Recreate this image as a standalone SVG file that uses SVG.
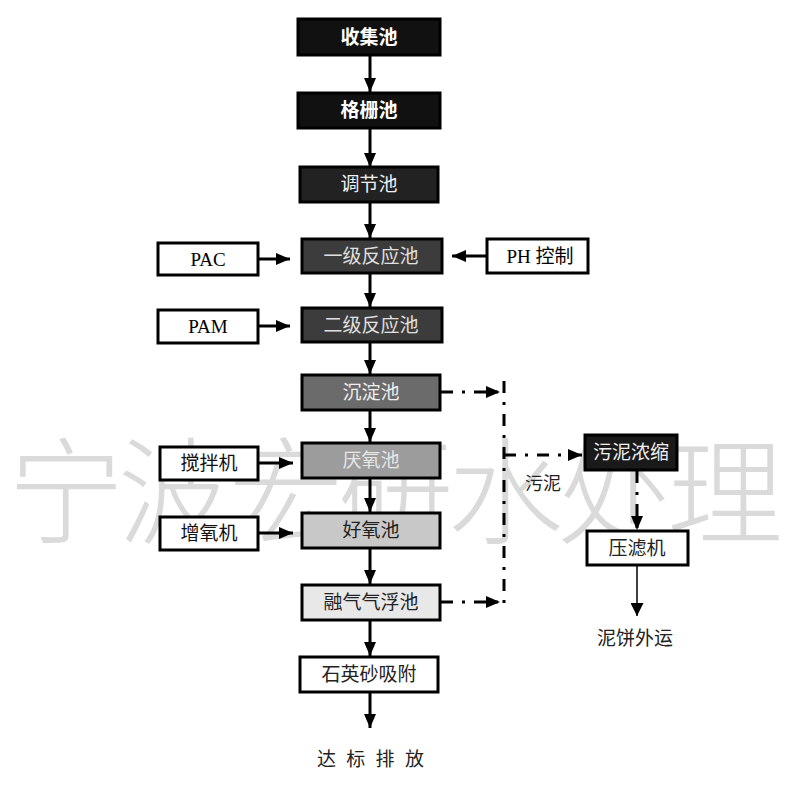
<svg xmlns="http://www.w3.org/2000/svg" width="800" height="789" viewBox="0 0 800 789">
<style>
text{font-family:"Noto Sans CJK SC","Noto Sans",sans-serif;text-anchor:middle}
.wm{font-size:116px;fill:#dadada;font-weight:200;text-anchor:start}
.box{stroke:#000;stroke-width:3}
.t{font-size:19px}
.lat{font-family:"Liberation Serif","Noto Sans CJK SC",serif;font-size:19px}
.flow{stroke:#000;stroke-width:3;fill:none;marker-end:url(#ah)}
.dd{stroke:#000;stroke-width:3;fill:none;stroke-dasharray:12 9 3 9;marker-end:url(#ah)}
.ddn{stroke:#000;stroke-width:3;fill:none;stroke-dasharray:12 9 3 9}
.thin{stroke:#000;stroke-width:1.5;fill:none;marker-end:url(#ahs)}
</style>
<defs>
<marker id="ah" viewBox="0 0 14 12" refX="14" refY="6" markerWidth="14" markerHeight="12" markerUnits="userSpaceOnUse" orient="auto"><path d="M0,0 L14,6 L0,12 z" fill="#000"/></marker>
<marker id="ahs" viewBox="0 0 12 12" refX="12" refY="6" markerWidth="13" markerHeight="13" markerUnits="userSpaceOnUse" orient="auto"><path d="M0,0 L12,6 L0,12 z" fill="#000"/></marker>
</defs>
<rect width="800" height="789" fill="#fff"/>
<g id="watermark">
<text class="wm" x="8" y="535" textLength="775" lengthAdjust="spacing">宁波宏研水处理</text>
</g>
<g id="connectors">
<line class="flow" x1="370" y1="55" x2="370" y2="92"/>
<line class="flow" x1="370" y1="128" x2="370" y2="167"/>
<line class="flow" x1="370" y1="202" x2="370" y2="238"/>
<line class="flow" x1="370" y1="273" x2="370" y2="307"/>
<line class="flow" x1="370" y1="342" x2="370" y2="374"/>
<line class="flow" x1="370" y1="410" x2="370" y2="442"/>
<line class="flow" x1="370" y1="478" x2="370" y2="512"/>
<line class="flow" x1="370" y1="548" x2="370" y2="584"/>
<line class="flow" x1="370" y1="620" x2="370" y2="656"/>
<line class="flow" x1="370" y1="692" x2="370" y2="728"/>
<line class="flow" x1="258" y1="259" x2="290" y2="259"/>
<line class="flow" x1="487" y1="256" x2="452" y2="256"/>
<line class="flow" x1="258" y1="326" x2="290" y2="326"/>
<line class="flow" x1="258" y1="463" x2="293" y2="463"/>
<line class="flow" x1="258" y1="533" x2="293" y2="533"/>
<line class="dd" x1="441" y1="392" x2="500" y2="392"/>
<line class="dd" x1="441" y1="602" x2="500" y2="602"/>
<line class="ddn" x1="504" y1="381" x2="504" y2="612"/>
<line class="dd" x1="504" y1="455" x2="582" y2="455"/>
<line class="dd" x1="637" y1="471" x2="637" y2="530"/>
<line class="thin" x1="637" y1="565" x2="637" y2="616"/>
</g>
<g id="n1"><rect class="box" x="298" y="19" width="142" height="36" fill="#111"/><text class="t" x="369" y="44" fill="#fff" font-weight="bold">收集池</text></g>
<g id="n2"><rect class="box" x="298" y="93" width="142" height="35" fill="#111"/><text class="t" x="369" y="117" fill="#fff" font-weight="bold">格栅池</text></g>
<g id="n3"><rect class="box" x="300" y="167" width="138" height="35" fill="#222"/><text class="t" x="369" y="191" fill="#f0f0f0">调节池</text></g>
<g id="n4"><rect class="box" x="302" y="239" width="140" height="34" fill="#3c3c3c"/><text class="t" x="371" y="263" fill="#e0e0e0">一级反应池</text></g>
<g id="pac"><rect class="box" x="158" y="243" width="100" height="32" fill="#fff"/><text class="lat" x="208" y="266">PAC</text></g>
<g id="ph"><rect class="box" x="487" y="239" width="101" height="34" fill="#fff"/><text class="lat" x="540" y="263">PH 控制</text></g>
<g id="n5"><rect class="box" x="302" y="308" width="140" height="34" fill="#3c3c3c"/><text class="t" x="371" y="332" fill="#e0e0e0">二级反应池</text></g>
<g id="pam"><rect class="box" x="158" y="310" width="100" height="33" fill="#fff"/><text class="lat" x="208" y="333">PAM</text></g>
<g id="n6"><rect class="box" x="302" y="375" width="138" height="35" fill="#6b6b6b"/><text class="t" x="371" y="399" fill="#eee">沉淀池</text></g>
<g id="n7"><rect class="box" x="302" y="443" width="138" height="35" fill="#9c9c9c"/><text class="t" x="371" y="467" fill="#e6e6e6">厌氧池</text></g>
<g id="m1"><rect class="box" x="160" y="447" width="98" height="33" fill="#fff"/><text class="t" x="209" y="470" fill="#111">搅拌机</text></g>
<g id="n8"><rect class="box" x="302" y="513" width="138" height="35" fill="#c8c8c8"/><text class="t" x="371" y="537" fill="#222">好氧池</text></g>
<g id="m2"><rect class="box" x="160" y="517" width="98" height="33" fill="#fff"/><text class="t" x="209" y="540" fill="#111">增氧机</text></g>
<g id="n9"><rect class="box" x="302" y="585" width="138" height="35" fill="#e8e8e8"/><text class="t" x="371" y="609" fill="#222">融气气浮池</text></g>
<g id="n10"><rect class="box" x="300" y="657" width="138" height="35" fill="#fff"/><text class="t" x="369" y="681" fill="#222">石英砂吸附</text></g>
<g id="out"><text class="t" x="372" y="766" fill="#222" letter-spacing="3" xml:space="preserve">达 标 排 放</text></g>
<g id="s1"><rect class="box" x="585" y="435" width="92" height="35" fill="#1a1a1a"/><text class="t" x="631" y="459" fill="#eee">污泥浓缩</text></g>
<g id="sl"><text x="543" y="490" font-size="18" fill="#222">污泥</text></g>
<g id="s2"><rect class="box" x="587" y="531" width="101" height="34" fill="#fff"/><text class="t" x="637" y="555" fill="#222">压滤机</text></g>
<g id="s3"><text class="t" x="635" y="645" fill="#222">泥饼外运</text></g>
</svg>
